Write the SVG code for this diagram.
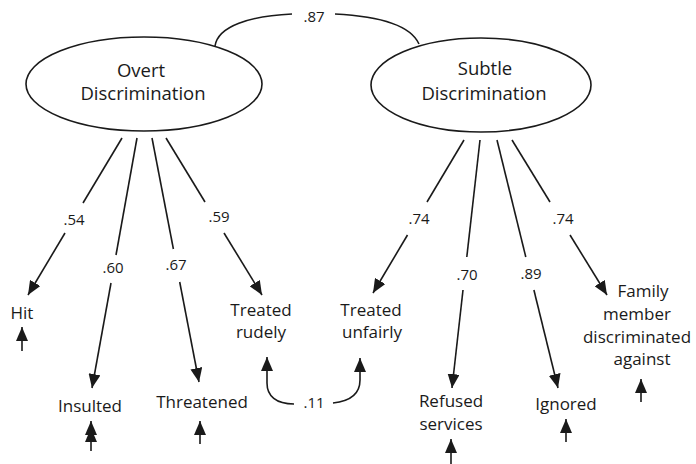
<svg xmlns="http://www.w3.org/2000/svg" width="696" height="464" viewBox="0 0 696 464">
<defs>
<marker id="ah" viewBox="0 0 14 12" refX="14" refY="6" markerWidth="14" markerHeight="12" markerUnits="userSpaceOnUse" orient="auto">
<path d="M0,0 L14,6 L0,12 z" fill="#1a1a1a"/>
</marker>
<style>
.ln{stroke:#1a1a1a;stroke-width:1.6;fill:none}
.el{stroke:#1a1a1a;stroke-width:1.6;fill:#fff}
.t{font-family:"Open Sans","Noto Sans",sans-serif;fill:#1a1a1a;text-anchor:middle}
.big{font-size:18.5px}
.lab{font-size:17px}
.num{font-size:15px}
</style>
</defs>
<rect width="696" height="464" fill="#fff"/>
<g id="connectors">
<path class="ln" d="M215,46 C218,26 250,16 292,14"/>
<path class="ln" d="M335,14 C375,16 410,24 419,44"/>
<text class="t num" x="314" y="22">.87</text>
<line class="ln" x1="122" y1="138" x2="83" y2="203"/>
<line class="ln" x1="65" y1="233" x2="28" y2="295" marker-end="url(#ah)"/>
<text class="t num" x="74" y="225">.54</text>
<line class="ln" x1="137" y1="138" x2="116" y2="255"/>
<line class="ln" x1="111" y1="283" x2="92" y2="388" marker-end="url(#ah)"/>
<text class="t num" x="113" y="273">.60</text>
<line class="ln" x1="152" y1="138" x2="173.4" y2="249"/>
<line class="ln" x1="179.7" y1="282" x2="199" y2="382" marker-end="url(#ah)"/>
<text class="t num" x="176" y="270">.67</text>
<line class="ln" x1="166" y1="138" x2="205" y2="202"/>
<line class="ln" x1="224" y1="233" x2="262" y2="295" marker-end="url(#ah)"/>
<text class="t num" x="219" y="222">.59</text>
<line class="ln" x1="464" y1="140" x2="427" y2="202"/>
<line class="ln" x1="407.5" y1="235" x2="373" y2="293" marker-end="url(#ah)"/>
<text class="t num" x="419" y="224">.74</text>
<line class="ln" x1="480" y1="140" x2="466.8" y2="257"/>
<line class="ln" x1="463" y1="290" x2="452" y2="388" marker-end="url(#ah)"/>
<text class="t num" x="467" y="280">.70</text>
<line class="ln" x1="497" y1="140" x2="525.8" y2="257"/>
<line class="ln" x1="533.9" y1="290" x2="558" y2="388" marker-end="url(#ah)"/>
<text class="t num" x="531" y="279">.89</text>
<line class="ln" x1="512" y1="140" x2="550" y2="202"/>
<line class="ln" x1="570" y1="235" x2="607" y2="295" marker-end="url(#ah)"/>
<text class="t num" x="563" y="224">.74</text>
<path class="ln" d="M294,404 C276,404 267,396 267,383 L267,357" marker-end="url(#ah)"/>
<path class="ln" d="M333,403 C352,401 360,392 360,380 L360,358" marker-end="url(#ah)"/>
<text class="t num" x="314" y="408">.11</text>
<line class="ln" x1="22" y1="351" x2="22" y2="327" marker-end="url(#ah)"/>
<line class="ln" x1="91" y1="451" x2="91" y2="428" marker-end="url(#ah)"/>
<line class="ln" x1="91" y1="430" x2="91" y2="421" marker-end="url(#ah)"/>
<line class="ln" x1="200" y1="444" x2="200" y2="421" marker-end="url(#ah)"/>
<line class="ln" x1="451" y1="464" x2="451" y2="439" marker-end="url(#ah)"/>
<line class="ln" x1="566" y1="442" x2="566" y2="419" marker-end="url(#ah)"/>
<line class="ln" x1="641" y1="402" x2="641" y2="379" marker-end="url(#ah)"/>
</g>
<g id="overt">
<ellipse class="el" cx="144" cy="84" rx="118" ry="47"/>
<text class="t big" x="141" y="77">Overt</text>
<text class="t big" x="143" y="100">Discrimination</text>
</g>
<g id="subtle">
<ellipse class="el" cx="481" cy="85" rx="110" ry="47"/>
<text class="t big" x="485" y="75">Subtle</text>
<text class="t big" x="484" y="100">Discrimination</text>
</g>
<g id="hit"><text class="t lab" x="22" y="319">Hit</text></g>
<g id="insulted"><text class="t lab" x="90" y="412">Insulted</text></g>
<g id="threatened"><text class="t lab" x="202" y="408">Threatened</text></g>
<g id="rudely"><text class="t lab" x="261" y="316">Treated</text><text class="t lab" x="261" y="338">rudely</text></g>
<g id="unfairly"><text class="t lab" x="371" y="316">Treated</text><text class="t lab" x="372" y="338">unfairly</text></g>
<g id="refused"><text class="t lab" x="451" y="407">Refused</text><text class="t lab" x="451" y="430">services</text></g>
<g id="ignored"><text class="t lab" x="566" y="410">Ignored</text></g>
<g id="family"><text class="t lab" x="643" y="297">Family</text><text class="t lab" x="637" y="320">member</text><text class="t lab" x="637" y="343">discriminated</text><text class="t lab" x="642" y="365">against</text></g>
</svg>
